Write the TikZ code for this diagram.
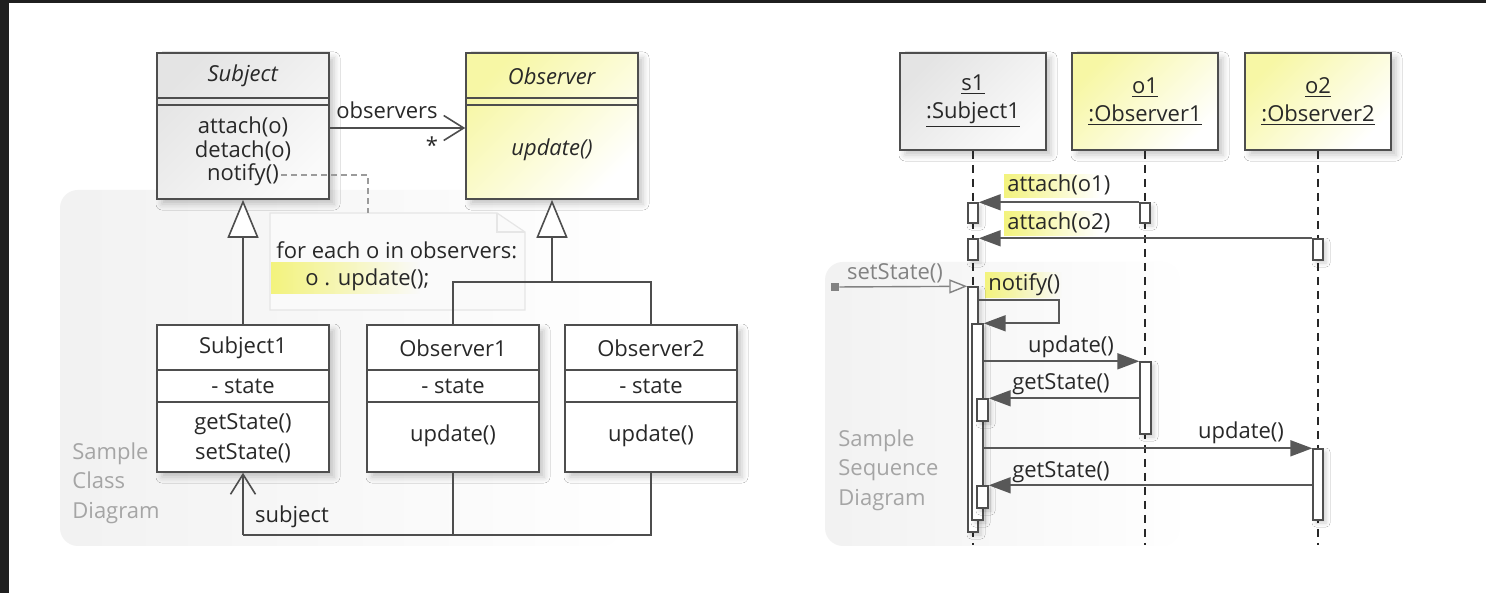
\documentclass[tikz,border=0pt]{standalone}
\usepackage{fontspec}
\setmainfont{Open Sans}
\usetikzlibrary{arrows.meta,positioning,shadows.blur,fadings}

\definecolor{framedark}{RGB}{31,31,31}
\definecolor{edgegray}{RGB}{78,78,78}
\definecolor{inkgray}{RGB}{40,40,40}
\definecolor{msggray}{RGB}{88,88,88}
\definecolor{capgray}{RGB}{165,165,165}
\definecolor{foundgray}{RGB}{130,130,130}
\definecolor{subjfill}{RGB}{228,228,228}
\definecolor{obsfill}{RGB}{247,247,165}
\definecolor{hlyellow}{RGB}{243,243,125}
\definecolor{notefill}{RGB}{250,250,250}
\definecolor{noteedge}{RGB}{230,230,230}
\definecolor{panelgray}{RGB}{242,242,242}

\tikzset{
  box shadow/.style={blur shadow={shadow xshift=2.5pt,shadow yshift=-2.5pt,shadow blur radius=3pt,shadow opacity=22}},
  class box/.style={rectangle,draw=edgegray,line width=0.8pt,fill=white,inner sep=0pt,minimum width=86pt,box shadow},
  abstract box/.style={class box,top color=subjfill,bottom color=black!2,shading angle=45},
  iface box/.style={class box,top color=obsfill,bottom color=white,shading angle=45},
  member/.style={inner sep=1pt},
  divider/.style={draw=edgegray,line width=0.6pt},
  line/.style={draw=edgegray,line width=0.8pt},
  inherit/.style={line,-{Triangle[open,length=19pt,width=15.5pt,fill=white]}},
  assoc/.style={line,-{Straight Barb[length=10pt,width=12.5pt]}},
  note link/.style={draw=foundgray!80,line width=0.6pt,dash pattern=on 3pt off 2pt},
  object box/.style={rectangle,draw=edgegray,line width=0.8pt,inner sep=0pt,minimum width=73pt,minimum height=48.5pt,align=center,box shadow},
  lifeline/.style={draw=inkgray,line width=0.75pt,dash pattern=on 4pt off 3pt},
  act bar/.style={rectangle,draw=edgegray,line width=0.7pt,fill=white,inner sep=0pt,minimum width=5pt,
    blur shadow={shadow xshift=1.5pt,shadow yshift=-1.5pt,shadow blur radius=2pt,shadow opacity=18}},
  msg/.style={draw=msggray,line width=0.9pt,-{Triangle[length=11pt,width=8pt]}},
  found msg/.style={draw=foundgray,line width=0.7pt,-{Triangle[open,length=9pt,width=7pt]}},
  found dot/.style={rectangle,fill=foundgray,minimum size=4pt,inner sep=0pt},
  hl/.style={fill=hlyellow,path fading=east},
  panel/.style={fill=panelgray,path fading=east,rounded corners=9pt},
  caption/.style={anchor=west,align=left,inner sep=0pt,text=capgray,font=\fontsize{11}{14.75}\selectfont}
}

\begin{document}
\begin{tikzpicture}[x=0.5pt,y=-0.5pt,font=\fontsize{11}{14}\selectfont,text=inkgray]
\useasboundingbox (0,0) rectangle (1486,593);
\fill[white] (0,0) rectangle (1486,593);
\fill[framedark] (0,0) rectangle (1486,3);
\fill[framedark] (0,0) rectangle (9,593);

\fill[panel] (60,190) rectangle (620,546);
\fill[panel] (825,262) rectangle (1180,546);
\node[caption] (classcap) at (72,483) {Sample\\Class\\Diagram};
\node[caption] (seqcap) at (838,470) {Sample\\Sequence\\Diagram};

% note
\coordinate (notehook) at (368,213);
\filldraw[fill=notefill,draw=noteedge,line width=0.6pt] (270,213) -- (497,213) -- (525,232) -- (525,310) -- (270,310) -- cycle;
\draw[noteedge,line width=0.6pt] (497,213) -- (497,232) -- (525,232);
\fill[hl] (271,262) rectangle (420,294);
\node[anchor=west,inner sep=0pt] (noteline1) at (276,250) {for each o in observers:};
\node[anchor=west,inner sep=0pt] (noteline2) at (305,280) {o . update();};

% class diagram
\node[abstract box,minimum height=73pt] (subj) at (243,126) {};
\node[member] (subjname) at (243,76) {\textit{Subject}};
\draw[divider] (subj.west |- 0,98) -- (subj.east |- 0,98);
\draw[divider] (subj.west |- 0,105) -- (subj.east |- 0,105);
\node[member] (subjattach) at (243,127) {attach(o)};
\node[member] (subjdetach) at (243,151) {detach(o)};
\node[member] (subjnotify) at (243,175) {notify()};

\node[iface box,minimum height=73pt] (obs) at (552,126) {};
\node[member] (obsname) at (552,76) {\textit{Observer}};
\draw[divider] (obs.west |- 0,98) -- (obs.east |- 0,98);
\draw[divider] (obs.west |- 0,105) -- (obs.east |- 0,105);
\node[member] (obsupdate) at (552,150) {\textit{update()}};

\node[class box,minimum height=73.5pt] (subj1) at (243,398.5) {};
\node[member] (subj1name) at (243,348) {Subject1};
\draw[divider] (subj1.west |- 0,370) -- (subj1.east |- 0,370);
\node[member] (subj1state) at (243,386) {- state};
\draw[divider] (subj1.west |- 0,402) -- (subj1.east |- 0,402);
\node[member] (subj1get) at (243,424) {getState()};
\node[member] (subj1set) at (243,453) {setState()};

\node[class box,minimum height=73.5pt] (obs1) at (453,398.5) {};
\node[member] (obs1name) at (453,348) {Observer1};
\draw[divider] (obs1.west |- 0,370) -- (obs1.east |- 0,370);
\node[member] (obs1state) at (453,386) {- state};
\draw[divider] (obs1.west |- 0,402) -- (obs1.east |- 0,402);
\node[member] (obs1update) at (453,436) {update()};

\node[class box,minimum height=73.5pt] (obs2) at (651,398.5) {};
\node[member] (obs2name) at (651,348) {Observer2};
\draw[divider] (obs2.west |- 0,370) -- (obs2.east |- 0,370);
\node[member] (obs2state) at (651,386) {- state};
\draw[divider] (obs2.west |- 0,402) -- (obs2.east |- 0,402);
\node[member] (obs2update) at (651,436) {update()};

\draw[assoc] (subj.east |- 0,128) -- (obs.west |- 0,128);
\node (obslabel) at (387,110) {observers};
\node (obsmult) at (432,145) {*};
\draw[note link] (subjnotify.east) -| (notehook);

\draw[inherit] (subj1.north) -- (subj.south);
\coordinate (obsjoin) at (552,282);
\draw[line] (obs1.north) |- (obsjoin) -| (obs2.north);
\draw[inherit] (obsjoin) -- (obs.south);

\coordinate (subjlink) at (243,535);
\draw[line] (obs2.south) |- (subjlink);
\draw[line] (obs1.south) -- (obs1.south |- subjlink);
\draw[assoc] (subjlink) -- (subj1.south);
\node (subjlabel) at (292,517) {subject};

% sequence diagram
\node[object box,top color=subjfill,bottom color=black!2,shading angle=45] (s1) at (973,101.5) {\underline{s1}\\\underline{:Subject1}};
\node[object box,top color=obsfill,bottom color=white,shading angle=45] (o1) at (1145,101.5) {\underline{o1}\\\underline{:Observer1}};
\node[object box,top color=obsfill,bottom color=white,shading angle=45] (o2) at (1318,101.5) {\underline{o2}\\\underline{:Observer2}};
\coordinate (s1end) at (973,545);
\coordinate (o1end) at (1145,545);
\coordinate (o2end) at (1318,545);
\draw[lifeline] (s1) -- (s1end);
\draw[lifeline] (o1) -- (o1end);
\draw[lifeline] (o2) -- (o2end);

\fill[hl] (1004,174) rectangle (1100,198);
\fill[hl] (1004,211) rectangle (1100,236);
\fill[hl] (985,272) rectangle (1062,298);
\node[anchor=west,inner sep=1pt] (attach1) at (1005,185) {attach(o1)};
\node[anchor=west,inner sep=1pt] (attach2) at (1005,223) {attach(o2)};
\node[anchor=west,inner sep=1pt] (notifylbl) at (986,285) {notify()};
\node[text=foundgray] (setlbl) at (895,273) {setState()};

\node[act bar,minimum height=10pt] (act1s) at (973,213) {};
\node[act bar,minimum height=10pt] (act1o) at (1145,213) {};
\node[act bar,minimum height=10.5pt] (act2s) at (973,249.5) {};
\node[act bar,minimum height=10.5pt] (act2o) at (1318,249.5) {};
\node[act bar,minimum height=122.5pt] (actmain) at (973,409.5) {};
\node[act bar,minimum height=98pt,minimum width=5.5pt] (actnest) at (977.5,422) {};
\node[act bar,minimum height=11pt,minimum width=5.5pt] (actget1) at (982.5,410) {};
\node[act bar,minimum height=11pt,minimum width=5.5pt] (actget2) at (982.5,497) {};
\node[act bar,minimum height=36pt,minimum width=5.5pt] (acto1) at (1145.5,398) {};
\node[act bar,minimum height=35.5pt] (acto2) at (1318,484.5) {};

\draw[msg] (act1o.north west) -- (act1s.north east);
\draw[msg] (act2o.north west) -- (act2s.north east);
\node[found dot] (setstart) at (835,287) {};
\draw[found msg] (setstart) -- (actmain.north west);
\coordinate (selfturn) at (1059,300);
\draw[msg] (actmain.east |- selfturn) -- (selfturn) |- (actnest.north east);
\draw[msg] (actnest.east |- acto1.north) -- (acto1.north west);
\draw[msg] (acto1.west |- actget1.north) -- (actget1.north east);
\draw[msg] (actnest.east |- acto2.north) -- (acto2.north west);
\draw[msg] (acto2.west |- actget2.north) -- (actget2.north east);

\node (upd1lbl) at (1071,347) {update()};
\node (get1lbl) at (1061,384) {getState()};
\node (upd2lbl) at (1241,433) {update()};
\node (get2lbl) at (1061,472) {getState()};
\end{tikzpicture}
\end{document}
